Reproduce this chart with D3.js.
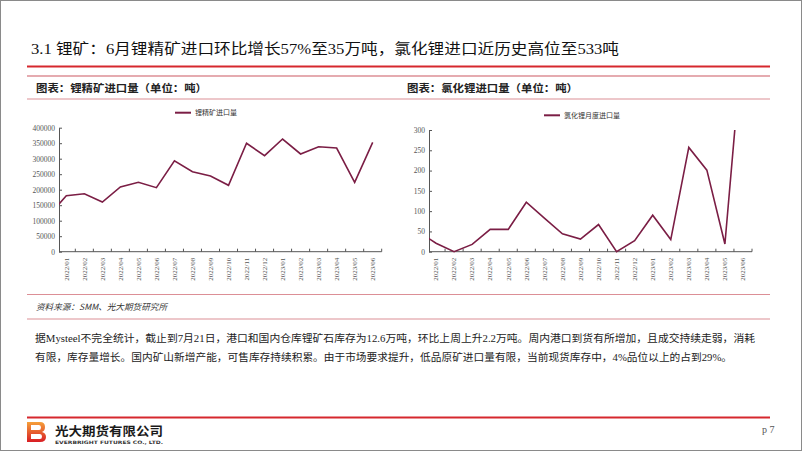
<!DOCTYPE html>
<html><head><meta charset="utf-8">
<script src="https://cdn.jsdelivr.net/npm/d3@7"></script>
<style>
html,body{margin:0;padding:0;background:#fff;}
svg{display:block;}
</style></head>
<body>
<svg id="page" width="802" height="451"></svg>
<script>
// ---------- data ----------
const months = ["2022/01","2022/02","2022/03","2022/04","2022/05","2022/06","2022/07","2022/08","2022/09","2022/10","2022/11","2022/12","2023/01","2023/02","2023/03","2023/04","2023/05","2023/06"];
// 锂精矿进口量 (吨)
const spodumeneImports = [180600,187000,160300,208700,223800,206500,293500,258000,244000,214200,349700,309700,363500,315200,338700,334500,223800,352900];
const spodumenePrevMonth = 115000; // 2021/12, enters from left edge (clipped)
// 氯化锂月度进口量 (吨)
const lithiumChlorideImports = [21,0,18,55,55,122,83,44,31,67,0,27,90,30,257,201,19,533];
const lithiumChloridePrevMonth = 50; // 2021/12, clipped
const leftTicks = [0,50000,100000,150000,200000,250000,300000,350000,400000];
const rightTicks = [0,50,100,150,200,250,300];

const titleText = "3.1 锂矿：6月锂精矿进口环比增长57%至35万吨，氯化锂进口近历史高位至533吨";
const leftHeader = "图表：锂精矿进口量（单位：吨）";
const rightHeader = "图表：氯化锂进口量（单位：吨）";
const leftLegend = "锂精矿进口量";
const rightLegend = "氯化锂月度进口量";
const sourceText = "资料来源：SMM、光大期货研究所";
const para1 = "据Mysteel不完全统计，截止到7月21日，港口和国内仓库锂矿石库存为12.6万吨，环比上周上升2.2万吨。周内港口到货有所增加，且成交持续走弱，消耗";
const para2 = "有限，库存量增长。国内矿山新增产能，可售库存持续积累。由于市场要求提升，低品原矿进口量有限，当前现货库存中，4%品位以上的占到29%。";

// ---------- page ----------
const svg = d3.select("#page");
const FONT = "'Liberation Serif','Noto Sans CJK SC',serif";
const CJK = "'Noto Sans CJK SC','Liberation Serif',sans-serif";
const LINE = "#7b1e45";
const PINK = "#dc8f96";
const RED = "#d6282e";

svg.append("rect").attr("x",0.5).attr("y",0.5).attr("width",801).attr("height",450)
  .attr("fill","#fff").attr("stroke","#8a8a8a").attr("stroke-width",1);

svg.append("text").attr("x",31).attr("y",54).attr("font-family",FONT).attr("font-size",14.5)
  .attr("fill","#111").attr("textLength",588).attr("lengthAdjust","spacingAndGlyphs").text(titleText);

svg.append("line").attr("x1",27).attr("x2",770).attr("y1",66.5).attr("y2",66.5)
  .attr("stroke",RED).attr("stroke-width",2.2);

// table lines
[76,99,294.5,319].forEach(y=>{
  svg.append("line").attr("x1",27).attr("x2",770).attr("y1",y).attr("y2",y)
    .attr("stroke",PINK).attr("stroke-width",y===76?1.6:1.1);
});

svg.append("text").attr("x",36).attr("y",92).attr("font-family",CJK).attr("font-weight","bold")
  .attr("font-size",10.5).attr("fill","#222").attr("textLength",171).attr("lengthAdjust","spacingAndGlyphs").text(leftHeader);
svg.append("text").attr("x",407).attr("y",92).attr("font-family",CJK).attr("font-weight","bold")
  .attr("font-size",10.5).attr("fill","#222").attr("textLength",171).attr("lengthAdjust","spacingAndGlyphs").text(rightHeader);

svg.append("text").attr("x",36).attr("y",310).attr("font-family",CJK).attr("font-style","italic")
  .attr("font-size",8.5).attr("fill","#333").attr("textLength",131).attr("lengthAdjust","spacingAndGlyphs").text(sourceText);

svg.append("text").attr("x",35).attr("y",342).attr("font-family",FONT).attr("font-size",10)
  .attr("fill","#222").attr("textLength",720).attr("lengthAdjust","spacingAndGlyphs").text(para1);
svg.append("text").attr("x",35).attr("y",361).attr("font-family",FONT).attr("font-size",10)
  .attr("fill","#222").attr("textLength",697).attr("lengthAdjust","spacingAndGlyphs").text(para2);

svg.append("line").attr("x1",27).attr("x2",770).attr("y1",417.5).attr("y2",417.5)
  .attr("stroke",RED).attr("stroke-width",2);

// logo
const defs = svg.append("defs");
const lg = defs.append("linearGradient").attr("id","logoGrad").attr("x1",0).attr("y1",0).attr("x2",0).attr("y2",1);
lg.append("stop").attr("offset","0%").attr("stop-color","#f5a03a");
lg.append("stop").attr("offset","100%").attr("stop-color","#d81d24");
svg.append("path").attr("fill","url(#logoGrad)")
  .attr("d","M27,422 H40 Q45,422 45,427 Q45,431 42,432 Q46,433 46,437 Q46,442 40,442 H27 Z M31,425 V430 H39 Q41,430 41,427.5 Q41,425 39,425 Z M31,434 V439 H40 Q42,439 42,436.5 Q42,434 40,434 Z");
svg.append("text").attr("x",55).attr("y",436).attr("font-family",CJK).attr("font-weight","bold")
  .attr("font-size",12.5).attr("fill","#1a1a1a").attr("textLength",108).attr("lengthAdjust","spacingAndGlyphs").text("光大期货有限公司");
svg.append("text").attr("x",55).attr("y",443.5).attr("font-family","'DejaVu Sans',sans-serif").attr("font-weight","bold")
  .attr("font-size",4.6).attr("fill","#333").attr("textLength",108).attr("lengthAdjust","spacingAndGlyphs").text("EVERBRIGHT FUTURES CO., LTD.");
svg.append("text").attr("x",762).attr("y",433).attr("font-family",FONT).attr("font-size",10)
  .attr("fill","#555").text("p 7");

// ---------- chart builder ----------
function drawChart(cfg){
  const g = svg.append("g");
  const x = d3.scaleBand().domain(months).range([cfg.x0, cfg.x1]).padding(0);
  const step = x.step();
  const cx = m => x(m) + step/2;
  const y = d3.scaleLinear().domain([0, cfg.yMax]).range([cfg.yBottom, cfg.yTop]);

  // y axis (inside ticks)
  const ya = g.append("g").attr("transform",`translate(${cfg.axisX},0)`)
    .call(d3.axisLeft(y).tickValues(cfg.ticks).tickSizeInner(-3).tickSizeOuter(0).tickPadding(4).tickFormat(d3.format("d")));
  ya.select(".domain").attr("stroke","#555");
  ya.selectAll(".tick line").attr("stroke","#555");
  ya.selectAll(".tick text").attr("font-family",FONT).attr("font-size",7.5).attr("fill","#555");

  // x axis line and boundary ticks
  g.append("line").attr("x1",cfg.axisX).attr("x2",cfg.x1).attr("y1",cfg.yBottom).attr("y2",cfg.yBottom)
    .attr("stroke","#555");
  g.selectAll(".bt").data(months).join("line").attr("class","bt")
    .attr("x1",m=>x(m)+step).attr("x2",m=>x(m)+step)
    .attr("y1",cfg.yBottom).attr("y2",cfg.yBottom-3).attr("stroke","#555");

  const xa = g.append("g").attr("transform",`translate(0,${cfg.yBottom})`)
    .call(d3.axisBottom(x).tickSize(0).tickPadding(0));
  xa.select(".domain").remove();
  xa.selectAll(".tick text").attr("font-family",FONT).attr("font-size",7).attr("fill","#555")
    .attr("text-anchor","end").attr("transform","translate(0,6) rotate(-90)")
    .attr("x",0).attr("y",0).attr("dy","0.32em");

  // clip
  const cid = "clip"+cfg.id;
  defs.append("clipPath").attr("id",cid).append("rect")
    .attr("x",cfg.axisX).attr("y",cfg.yTop).attr("width",cfg.x1-cfg.axisX).attr("height",cfg.yBottom-cfg.yTop+2);

  const pts = [[cx(months[0]) - step, y(cfg.prev)]].concat(months.map((m,i)=>[cx(m), y(cfg.values[i])]));
  g.append("path").attr("clip-path",`url(#${cid})`).attr("d",d3.line()(pts))
    .attr("fill","none").attr("stroke",LINE).attr("stroke-width",1.6).attr("stroke-linejoin","miter");

  // legend
  g.append("line").attr("x1",cfg.legX).attr("x2",cfg.legX+16).attr("y1",cfg.legY).attr("y2",cfg.legY)
    .attr("stroke",LINE).attr("stroke-width",2);
  g.append("text").attr("x",cfg.legX+20).attr("y",cfg.legY).attr("dy","0.35em")
    .attr("font-family",CJK).attr("font-size",7).attr("fill","#333").text(cfg.legend);
}

drawChart({id:"L", x0:57.3, x1:381.7, axisX:59, yTop:127.7, yBottom:251.7, yMax:400000,
  ticks:leftTicks, values:spodumeneImports, prev:spodumenePrevMonth, legend:leftLegend, legX:175, legY:112.7});
drawChart({id:"R", x0:427, x1:752, axisX:429, yTop:130, yBottom:251.7, yMax:300,
  ticks:rightTicks, values:lithiumChlorideImports, prev:lithiumChloridePrevMonth, legend:rightLegend, legX:544, legY:115.3});
</script>
</body></html>
